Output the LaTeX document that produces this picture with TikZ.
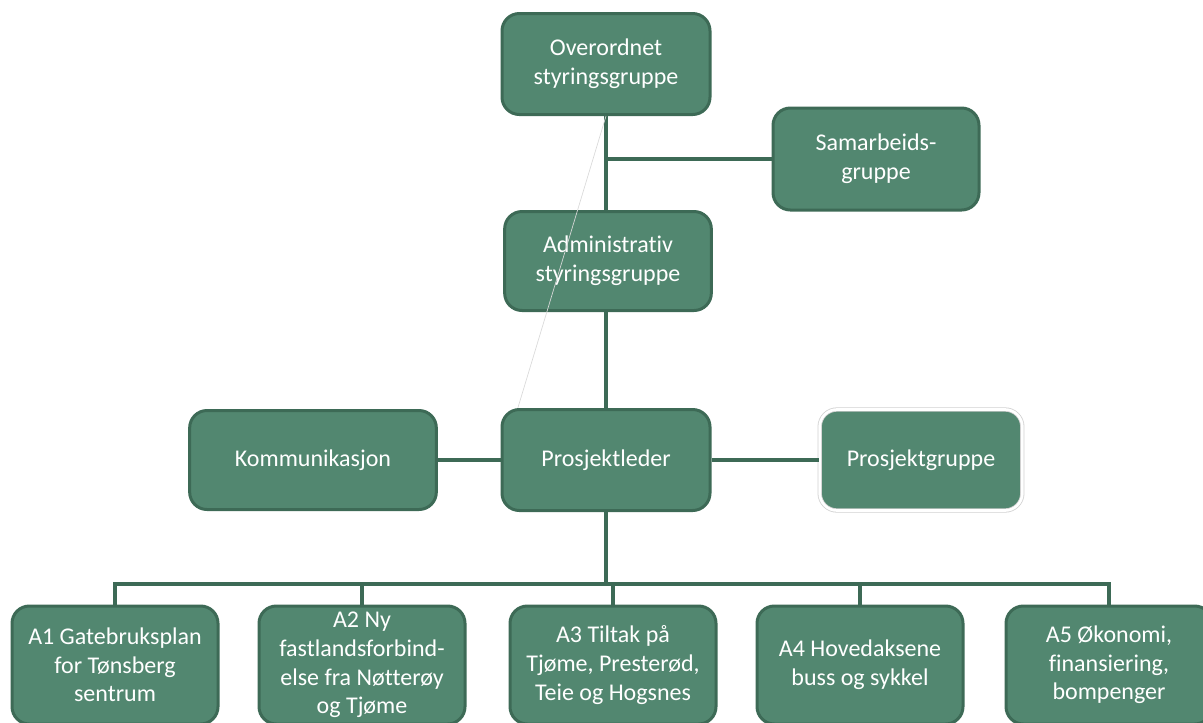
\documentclass[tikz,border=0pt]{standalone}
\usepackage{fontspec}
\setmainfont{Carlito}[Ligatures=NoCommon]
\definecolor{boxgreen}{RGB}{82,135,112}
\definecolor{edgegreen}{RGB}{61,106,86}
\tikzset{every picture/.style={line width=0.75pt}}

\begin{document}
\begin{tikzpicture}[x=0.75pt,y=0.75pt,yscale=-1,xscale=1,
  orgbox/.style={draw=edgegreen, fill=boxgreen, line width=2.25pt, rounded corners=13pt, text=white, align=center, inner sep=0pt, font=\fontsize{18}{21.5}\selectfont},
  lowbox/.style={orgbox, minimum width=154.5pt, minimum height=88.5pt},
  link/.style={draw=edgegreen, line width=2.5pt}]
	%set diagram size 1203 x 722
	\useasboundingbox (0,0) rectangle (1203,722);

	% Top level
	\node[orgbox, minimum width=156pt, minimum height=75.75pt] (over) at (606,64) {Overordnet\\styringsgruppe};
	\node[orgbox, minimum width=154.5pt, minimum height=76.5pt] (samarb) at (876,159) {Samarbeids-\\gruppe};
	\node[orgbox, minimum width=155pt, minimum height=74.25pt] (admin) at (608,261) {Administrativ\\styringsgruppe};

	% Middle row
	\node[orgbox, minimum width=185pt, minimum height=74.25pt] (komm) at (313,460) {Kommunikasjon};
	\node[orgbox, minimum width=156pt, minimum height=75.75pt] (leder) at (606,460) {Prosjektleder};
	\node[orgbox, draw=black!18, double=white, double distance=2pt, line width=0.6pt, minimum width=152pt, minimum height=75.75pt] (gruppe) at (921,460) {Prosjektgruppe};

	% Bottom row
	\node[lowbox] (a1) at (115,665) {A1 Gatebruksplan\\for Tønsberg\\sentrum};
	\node[lowbox] (a2) at (362,665) {A2 Ny\\fastlandsforbind-\\else fra Nøtterøy\\og Tjøme};
	\node[lowbox] (a3) at (613,665) {A3 Tiltak på\\Tjøme, Presterød,\\Teie og Hogsnes};
	\node[lowbox] (a4) at (860,665) {A4 Hovedaksene\\buss og sykkel};
	\node[lowbox] (a5) at (1109,665) {A5 Økonomi,\\finansiering,\\bompenger};

	% Connectors
	\coordinate (bus) at (606,584);
	\draw[link] (over.south) -- (over.south |- admin.north);
	\draw[link] (over.south |- samarb.west) -- (samarb.west);
	\draw[link] (admin.south -| leder.north) -- (leder.north);
	\draw[link] (komm.east) -- (leder.west);
	\draw[link] (leder.east) -- (gruppe.west);
	\draw[link] (leder.south) -- (bus);
	\draw[link] (a1.north) |- (a5.north |- bus) -- (a5.north);
	\foreach \n in {a2,a3,a4}
		\draw[link] (\n.north) -- (\n.north |- bus);

	% faint guide line
	\draw[black!15, line width=0.5pt] (over.south) -- ([xshift=13pt]leder.north west);

\end{tikzpicture}
\end{document}
